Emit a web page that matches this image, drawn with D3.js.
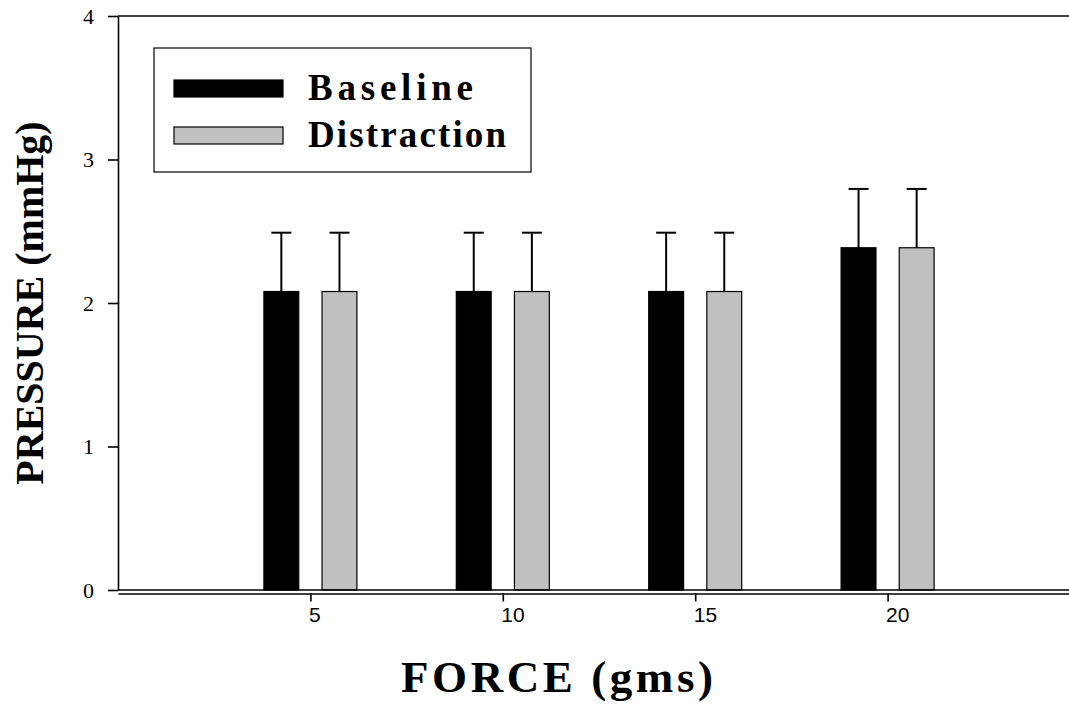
<!DOCTYPE html>
<html>
<head>
<meta charset="utf-8">
<script src="https://cdn.jsdelivr.net/npm/d3@7"></script>
<style>
  body { margin: 0; background: #fff; }
</style>
</head>
<body>
<script>
// data
var forces = [5, 10, 15, 20];
var series = ["Baseline", "Distraction"];
var baseline = [2.08, 2.08, 2.08, 2.385];
var baselineErr = [0.41, 0.41, 0.41, 0.41];
var distraction = [2.08, 2.08, 2.08, 2.385];
var distractionErr = [0.41, 0.41, 0.41, 0.41];
var yTicks = [0, 1, 2, 3, 4];
var colors = ["#000000", "#c0c0c0"];

var width = 1069, height = 704;

var svg = d3.select("body").append("svg")
    .attr("width", width)
    .attr("height", height);

var x = d3.scaleLinear().domain([0, 25]).range([118, 1080]);
var y = d3.scaleLinear().domain([0, 4]).range([590, 16]);

// two bars in each group, placed around the tick
var sub = d3.scaleBand().domain(series).range([-46.5, 46.5]).paddingInner(0.4);

var rows = [];
forces.forEach(function(f, i) {
  rows.push({ force: f, s: series[0], v: baseline[i], e: baselineErr[i], c: colors[0] });
  rows.push({ force: f, s: series[1], v: distraction[i], e: distractionErr[i], c: colors[1] });
});

// error bars (upper only)
var eb = svg.append("g").attr("class", "errors")
    .attr("stroke", "#000").attr("stroke-width", 2);
eb.selectAll("line.stem")
  .data(rows).enter().append("line")
    .attr("x1", function(d) { return x(d.force) + sub(d.s) + sub.bandwidth() / 2; })
    .attr("x2", function(d) { return x(d.force) + sub(d.s) + sub.bandwidth() / 2; })
    .attr("y1", function(d) { return y(d.v); })
    .attr("y2", function(d) { return y(d.v + d.e); });
eb.selectAll("line.cap")
  .data(rows).enter().append("line")
    .attr("x1", function(d) { return x(d.force) + sub(d.s) + sub.bandwidth() / 2 - 10; })
    .attr("x2", function(d) { return x(d.force) + sub(d.s) + sub.bandwidth() / 2 + 10; })
    .attr("y1", function(d) { return y(d.v + d.e); })
    .attr("y2", function(d) { return y(d.v + d.e); });

// bars
svg.append("g").selectAll("rect")
  .data(rows).enter().append("rect")
    .attr("x", function(d) { return x(d.force) + sub(d.s); })
    .attr("y", function(d) { return y(d.v); })
    .attr("width", sub.bandwidth())
    .attr("height", function(d) { return y(0) - y(d.v); })
    .attr("fill", function(d) { return d.c; })
    .attr("stroke", "#000")
    .attr("stroke-width", 1.2);

// y axis
var yAxis = svg.append("g")
    .attr("transform", "translate(118,0)")
    .call(d3.axisLeft(y).tickValues(yTicks).tickSize(10).tickSizeOuter(0).tickPadding(14)
      .tickFormat(d3.format("d")));
yAxis.select(".domain").attr("stroke-width", 1.6);
yAxis.selectAll(".tick line").attr("stroke-width", 1.6);
yAxis.selectAll("text")
    .attr("font-family", "'Liberation Serif', 'Times New Roman', serif")
    .attr("font-size", 22)
    .attr("fill", "#000");

// top frame line
svg.append("line")
    .attr("x1", x(0)).attr("x2", x(25))
    .attr("y1", y(4)).attr("y2", y(4))
    .attr("stroke", "#000").attr("stroke-width", 1.6);

// x axis, drawn as a double line
svg.append("line")
    .attr("x1", x(0)).attr("x2", x(25))
    .attr("y1", y(0)).attr("y2", y(0))
    .attr("stroke", "#000").attr("stroke-width", 1.6);
var xAxis = svg.append("g")
    .attr("transform", "translate(0,593.5)")
    .call(d3.axisBottom(x).tickValues(forces).tickSize(8).tickSizeOuter(0));
xAxis.select(".domain").attr("stroke-width", 1.6);
xAxis.selectAll(".tick line").attr("stroke-width", 1.6);
xAxis.selectAll("text")
    .attr("font-family", "'Liberation Sans', Arial, sans-serif")
    .attr("font-size", 21)
    .attr("fill", "#000")
    .attr("text-anchor", "start")
    .attr("x", -2)
    .attr("y", 28)
    .attr("dy", null);

// axis titles
svg.append("text")
    .attr("x", 401).attr("y", 692)
    .attr("textLength", 312).attr("lengthAdjust", "spacing")
    .attr("font-family", "'Liberation Serif', 'Times New Roman', serif")
    .attr("font-weight", "bold")
    .attr("font-size", 45)
    .text("FORCE (gms)");

svg.append("text")
    .attr("transform", "translate(43,303) rotate(-90)")
    .attr("text-anchor", "middle")
    .attr("font-family", "'Liberation Serif', 'Times New Roman', serif")
    .attr("font-weight", "bold")
    .attr("font-size", 40)
    .text("PRESSURE (mmHg)");

// legend
var legend = svg.append("g");
legend.append("rect")
    .attr("x", 154).attr("y", 48)
    .attr("width", 377).attr("height", 124)
    .attr("fill", "#fff").attr("stroke", "#000").attr("stroke-width", 1.2);
var legY = [80, 127];
var legLen = [165, 198];
series.forEach(function(s, i) {
  legend.append("rect")
      .attr("x", 174).attr("y", legY[i])
      .attr("width", 109).attr("height", 17)
      .attr("fill", colors[i]).attr("stroke", "#000").attr("stroke-width", 1.2);
  legend.append("text")
      .attr("x", 308).attr("y", legY[i] + 20)
      .attr("textLength", legLen[i]).attr("lengthAdjust", "spacing")
      .attr("font-family", "'Liberation Serif', 'Times New Roman', serif")
      .attr("font-weight", "bold")
      .attr("font-size", 37)
      .text(s);
});
</script>
</body>
</html>
